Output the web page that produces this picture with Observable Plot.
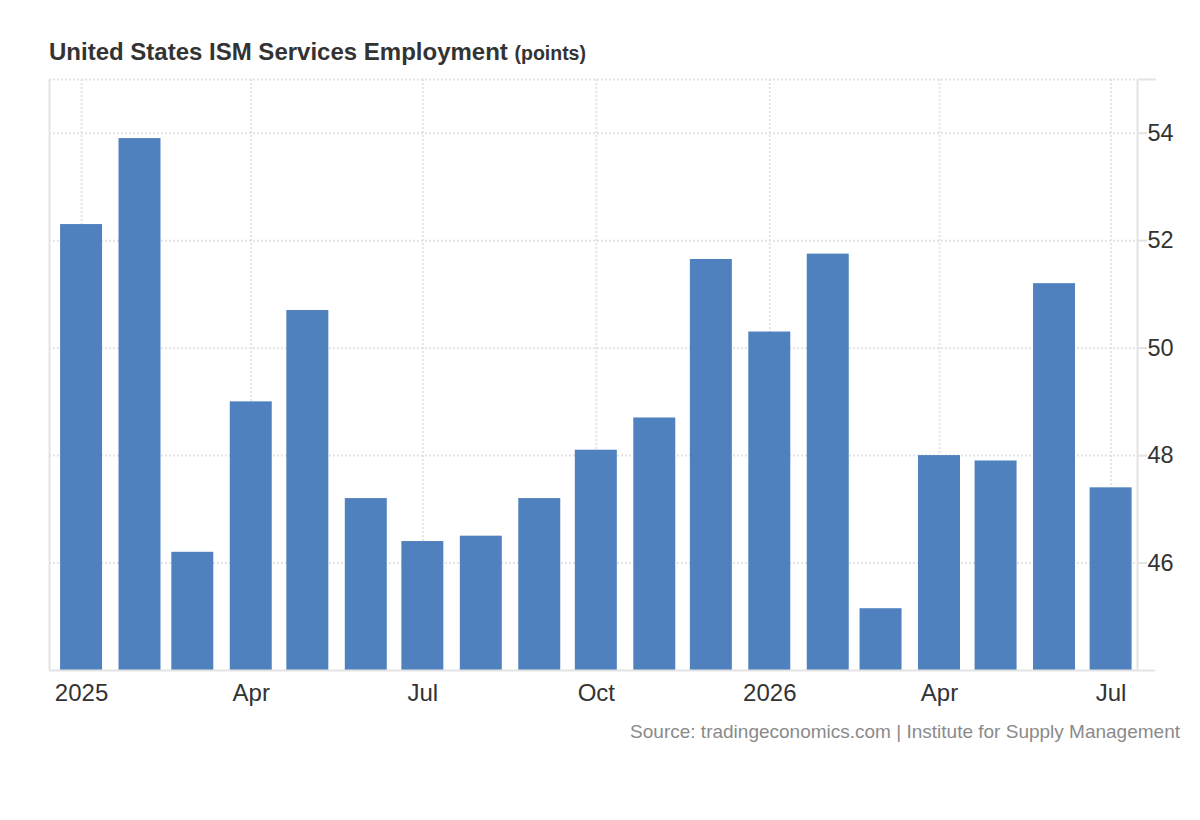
<!DOCTYPE html>
<html>
<head>
<meta charset="utf-8">
<script src="https://cdn.jsdelivr.net/npm/d3@7"></script>
<script src="https://cdn.jsdelivr.net/npm/@observablehq/plot@0.6"></script>
<style>
  html, body { margin: 0; padding: 0; background: #fff; }
  body { font-family: "Liberation Sans", Arial, sans-serif; width: 1200px; }
  #title { box-sizing: border-box; height: 70px; padding: 39px 0 0 49px; font-size: 24px; line-height: 26px; font-weight: bold; color: #333; }
  #title span { font-size: 19.5px; }
  #chart svg { display: block; }
  #source { text-align: right; padding-right: 20px; font-size: 19px; line-height: 20px; color: #8a8a8a; margin-top: 2px; }
</style>
</head>
<body>
<div id="title">United States ISM Services Employment <span>(points)</span></div>
<div id="chart"></div>
<div id="source">Source: tradingeconomics.com | Institute for Supply Management</div>
<script>
const months = ["2025-01","2025-02","2025-03","2025-04","2025-05","2025-06","2025-07","2025-08","2025-09","2025-10","2025-11","2025-12",
                "2026-01","2026-02","2026-03","2026-04","2026-05","2026-06","2026-07"];
const values = [52.3, 53.9, 46.2, 49.0, 50.7, 47.2, 46.4, 46.5, 47.2, 48.1, 48.7, 51.65,
                50.3, 51.75, 45.15, 48.0, 47.9, 51.2, 47.4];
const yTicks = [46, 48, 50, 52, 54];
const yDomain = [44, 55];
const xTickMonths = ["2025-01","2025-04","2025-07","2025-10","2026-01","2026-04","2026-07"];
const monthNames = ["Jan","Feb","Mar","Apr","May","Jun","Jul","Aug","Sep","Oct","Nov","Dec"];

const parse = d3.utcParse("%Y-%m");
const data = months.map((m, i) => ({date: parse(m), value: values[i]}));
const xTicks = xTickMonths.map(parse);
const halfBar = 11.13 * 864e5;
const xDomain = [d3.utcDay.offset(data[0].date, -17), d3.utcDay.offset(data[data.length - 1].date, 14)];
const grid = {stroke: "#e3e3e3", strokeWidth: 2, strokeDasharray: "2,2"};
const frameLine = {stroke: "#e3e3e3", strokeWidth: 2};

const chart = Plot.plot({
  width: 1200,
  height: 650,
  marginTop: 9,
  marginBottom: 50,
  marginLeft: 49,
  marginRight: 63,
  style: {fontFamily: "'Liberation Sans', Arial, sans-serif", background: "#fff"},
  x: {type: "utc", domain: xDomain},
  y: {domain: yDomain},
  marks: [
    Plot.ruleY([...yTicks, yDomain[1]], grid),
    Plot.ruleX(xTicks, grid),
    Plot.ruleX([xDomain[0], xDomain[1]], frameLine),
    Plot.rectY(data, {
      x1: d => new Date(+d.date - halfBar),
      x2: d => new Date(+d.date + halfBar),
      y1: yDomain[0],
      y2: "value",
      fill: "#4e81bd"
    }),
    Plot.ruleY([yDomain[0]], {...frameLine, insetRight: -18}),
    Plot.axisY({anchor: "right", ticks: yTicks, tickSize: 9, tickPadding: 1, fontSize: 23.5, fill: "#333", stroke: "#e3e3e3", strokeWidth: 2, label: null}),
    Plot.axisY({anchor: "right", ticks: [yDomain[1]], tickSize: 18, tickFormat: () => "", stroke: "#e3e3e3", strokeWidth: 2, label: null}),
    Plot.axisX({ticks: xTicks, tickSize: 0, tickPadding: 13, fontSize: 24, fill: "#333", label: null,
      tickFormat: d => d.getUTCMonth() === 0 ? String(d.getUTCFullYear()) : monthNames[d.getUTCMonth()]})
  ]
});
document.getElementById("chart").appendChild(chart);
</script>
</body>
</html>
